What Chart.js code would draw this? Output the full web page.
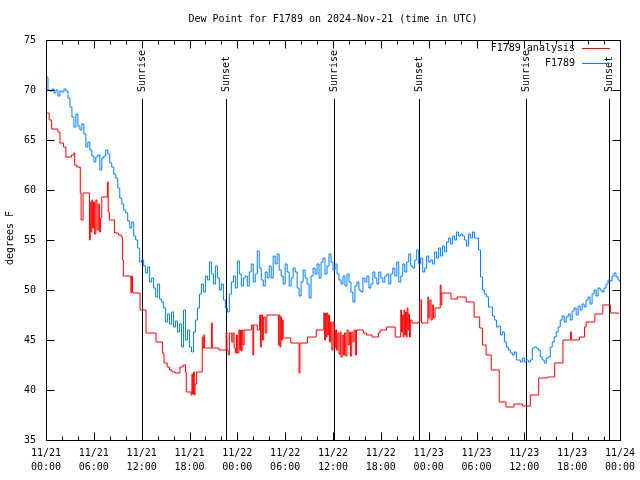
<!DOCTYPE html>
<html>
<head>
<meta charset="utf-8">
<title>Dew Point for F1789</title>
<script src="https://cdn.jsdelivr.net/npm/chart.js@4/dist/chart.umd.min.js"></script>
<style>
  html, body { margin: 0; padding: 0; background: #ffffff; }
  canvas { display: block; }
</style>
</head>
<body>
<canvas id="dewChart" width="640" height="480"></canvas>
<script>
// Hours since 11/21 00:00 UTC, x axis runs 0..72
const xTickLabels = [
    ['11/21', '00:00'], ['11/21', '06:00'], ['11/21', '12:00'], ['11/21', '18:00'],
    ['11/22', '00:00'], ['11/22', '06:00'], ['11/22', '12:00'], ['11/22', '18:00'],
    ['11/23', '00:00'], ['11/23', '06:00'], ['11/23', '12:00'], ['11/23', '18:00'],
    ['11/24', '00:00']
];
const yTickValues = [35, 40, 45, 50, 55, 60, 65, 70, 75];

const seriesNames = ['F1789 analysis', 'F1789'];

// sunrise / sunset markers (hours)
const sunEventHours = [12.06, 22.62, 36.16, 46.76, 60.25, 70.66];
const sunEventLabels = ['Sunrise', 'Sunset', 'Sunrise', 'Sunset', 'Sunrise', 'Sunset'];

// F1789 observed dew point, one reading every 15 minutes from 11/21 00:00
const obsStartHour = 0;
const obsStepHours = 0.25;
const obsDewPoint = [
    71.3, 70.0, 69.9, 70.1, 69.7, 70.0, 69.4, 69.9, 69.8, 70.1, 69.9, 69.2,
    68.3, 67.3, 66.3, 67.6, 66.4, 66.0, 66.6, 65.6, 64.3, 64.8, 64.0, 63.4,
    62.8, 63.3, 63.5, 62.0, 63.2, 63.4, 64.0, 63.6, 62.7, 62.3, 61.6, 61.2,
    60.2, 59.2, 58.6, 58.0, 57.7, 56.9, 56.2, 56.8, 55.4, 55.0, 54.2, 52.8,
    53.0, 52.4, 51.7, 52.3, 50.8, 51.2, 50.2, 49.3, 50.6, 49.1, 48.8, 48.2,
    46.8, 47.6, 46.6, 47.8, 46.3, 46.9, 45.8, 46.6, 44.3, 48.0, 45.0, 46.0,
    44.3, 43.8, 45.8, 47.0, 48.2, 49.6, 50.6, 49.8, 51.4, 51.0, 52.8, 51.6,
    50.6, 52.4, 51.2, 50.0, 50.6, 49.0, 48.2, 47.8, 49.6, 50.8, 51.4, 50.2,
    52.9, 51.6, 50.4, 51.2, 51.4, 50.4, 51.8, 52.6, 50.8, 51.6, 53.9, 52.2,
    51.0, 50.4, 51.8, 51.2, 52.4, 51.2, 53.4, 52.6, 53.6, 52.0, 51.4, 50.6,
    52.6, 51.8, 50.4, 51.2, 52.2, 51.8, 50.2, 49.4, 50.8, 52.0, 51.2, 50.6,
    49.2, 51.4, 52.2, 51.6, 52.6, 51.2, 52.8, 53.2, 51.6, 52.4, 53.6, 52.8,
    52.0, 52.6, 51.6, 51.0, 50.6, 51.4, 50.4, 51.6, 50.8, 49.8, 48.8, 50.4,
    50.8, 50.0, 49.8, 51.2, 50.8, 51.4, 50.2, 50.6, 51.8, 51.2, 50.6, 51.8,
    51.2, 50.8, 51.4, 51.6, 50.6, 51.6, 52.2, 51.4, 52.8, 50.8, 51.4, 52.6,
    51.8, 52.8, 53.6, 52.4, 52.2, 53.0, 54.0, 52.6, 53.2, 51.8, 52.2, 53.4,
    52.8, 53.0, 52.6, 53.8, 53.2, 54.2, 53.4, 54.4, 53.8, 54.8, 55.2, 54.6,
    55.4, 55.0, 55.8, 55.4, 55.6, 55.4, 55.0, 54.4, 55.6, 55.2, 55.8, 55.2,
    55.2, 54.0, 51.3, 50.0, 49.6, 49.3, 48.3, 48.3, 47.4, 47.0, 46.3, 46.4,
    45.5, 45.8, 44.8, 44.3, 44.0, 43.7, 43.5, 43.8, 43.0, 43.0, 42.8, 43.2,
    42.8, 43.0, 42.8, 43.0, 44.2, 44.3, 44.2, 44.0, 43.3, 43.0, 42.7, 43.2,
    43.3, 44.3, 44.8, 45.3, 45.8, 46.3, 47.0, 47.4, 46.8, 47.3, 47.6, 47.0,
    47.9, 48.2, 47.5, 48.4, 48.0, 48.6, 48.3, 49.0, 49.3, 48.6, 49.6, 50.0,
    49.4, 50.2, 50.0, 49.8, 50.2, 50.6, 51.0, 50.9, 51.4, 51.7, 51.3, 51.0,
    50.8, 51.3, 51.4, 51.6
];

// F1789 analysis: hour at which each new value starts
const anaHours = [
    0, 0.4, 0.7, 1.5, 1.75, 2.2, 2.5, 3.2, 3.5, 3.6, 3.85,
    4.3, 4.4, 4.65, 5.45, 5.55, 5.65, 5.75, 5.85, 5.95, 6.1, 6.25, 6.4, 6.55, 6.7, 6.85,
    7.0, 7.7, 7.8, 7.95, 8.6, 9.1, 9.45, 9.6, 9.7, 10.55, 10.65, 10.75, 10.85, 10.95,
    11.8, 12.55, 13.8, 14.6, 14.8, 15.2, 15.5, 15.8, 16.2, 16.8, 17.2, 17.5, 17.6,
    18.2, 18.3, 18.4, 18.5, 18.6, 18.7, 18.9, 19.6, 19.7, 19.8, 19.9, 20.75, 20.85, 21.7,
    22.6, 22.7, 22.85, 23.0, 23.15, 23.3, 23.45, 23.6, 23.75, 23.9,
    24.0, 24.2, 24.3, 24.4, 24.5, 24.6, 24.7, 24.85, 25.75, 25.95, 26.05, 26.5,
    26.8, 26.9, 27.0, 27.15, 27.3, 27.5, 27.7,
    29.15, 29.25, 29.35, 29.45, 29.55, 29.65, 29.75, 30.7, 31.75, 31.85, 32.8, 33.9,
    34.85, 34.95, 35.05, 35.15, 35.25, 35.35, 35.45, 35.55, 35.7, 35.85, 36.0, 36.15, 36.3, 36.45, 36.6,
    36.75, 36.9, 37.0, 37.15, 37.3, 37.45, 37.6, 37.75, 37.9, 38.05, 38.2, 38.35, 38.5, 38.65, 38.8, 38.95,
    39.8, 40.2, 40.9, 41.7, 41.9, 42.7, 43.8,
    44.5, 44.6, 44.7, 44.8, 44.9, 45.0, 45.1, 45.2, 45.3, 45.4, 45.5, 45.6, 45.7, 45.9,
    46.7, 46.9, 47.1, 47.9, 48.0, 48.15, 48.3, 48.45, 48.6, 48.8,
    49.45, 49.55, 49.65, 50.8, 51.6, 52.7, 53.7, 54.4, 54.75, 55.2, 55.85,
    56.85, 57.7, 58.7, 59.75, 60.75, 61.8, 62.85, 63.8, 64.85, 65.8, 65.9,
    66.9, 67.55, 67.75, 68.85, 69.85, 70.8, 71.8
];
const anaDewPoint = [
    67.7, 67.0, 66.1, 65.8, 64.7, 64.3, 63.3, 63.5, 63.7, 62.5, 62.3,
    59.7, 57.0, 59.7, 55.0, 58.8, 55.8, 59.0, 56.2, 58.8, 55.6, 59.0, 56.0, 58.6, 55.8, 57.2,
    59.3, 60.8, 57.8, 57.0, 55.7, 55.5, 55.3, 53.0, 51.4, 51.3, 49.7, 51.4, 49.8, 49.7,
    48.0, 45.7, 44.8, 43.7, 42.7, 42.3, 42.0, 41.8, 41.7, 42.3, 42.5, 41.8, 39.8,
    39.5, 41.6, 39.6, 41.8, 39.5, 40.6, 41.8, 45.3, 44.2, 45.5, 44.2, 46.7, 44.2, 44.0,
    45.8, 44.0, 43.5, 45.7, 45.7, 44.8, 45.7, 44.2, 43.7, 45.5,
    43.7, 46.0, 44.0, 46.0, 43.9, 46.0, 44.5, 46.0, 46.5, 43.5, 46.5, 46.0,
    47.5, 44.3, 47.5, 45.0, 47.3, 45.7, 47.5,
    44.5, 47.5, 44.3, 47.3, 45.0, 47.0, 45.2, 44.7, 41.7, 44.7, 45.3, 46.0,
    47.7, 45.0, 47.7, 45.3, 47.7, 45.5, 47.5, 44.8, 46.8, 44.0, 46.8, 44.2, 46.0, 44.0, 45.7,
    43.6, 45.8, 43.3, 45.5, 43.5, 45.7, 43.4, 46.0, 44.5, 45.8, 43.4, 45.8, 44.8, 46.0, 43.5, 46.0,
    45.7, 45.5, 45.3, 45.7, 46.0, 46.3, 45.3,
    48.0, 45.8, 47.5, 45.3, 48.0, 45.5, 47.8, 45.3, 48.2, 46.0, 47.6, 45.3, 47.0, 46.7,
    46.8, 49.0, 46.7, 49.3, 47.2, 49.0, 47.0, 48.5, 47.2, 48.2,
    50.5, 48.5, 49.7, 49.1, 49.3, 48.8, 47.3, 46.2, 44.5, 43.5, 42.0,
    38.8, 38.3, 38.6, 38.4, 39.5, 41.2, 41.3, 42.7, 45.0, 45.8, 45.0,
    45.3, 46.3, 46.8, 47.6, 48.5, 47.7, 47.6
];

const MONO = "'DejaVu Sans Mono', 'Liberation Mono', monospace";
const RED = '#ff0000';
const BLUE = '#0080ff';

const obsPoints = obsDewPoint.map((v, i) => ({ x: obsStartHour + i * obsStepHours, y: v }));
const anaPoints = anaHours.map((h, i) => ({ x: h, y: anaDewPoint[i] }));

// frame, ticks, sunrise/sunset markers, legend and titles in gnuplot style
const gnuplotDecor = {
    id: 'gnuplotDecor',
    beforeDatasetsDraw(chart) {
        const ctx = chart.ctx;
        const area = chart.chartArea;
        const xs = chart.scales.x;
        ctx.save();
        ctx.strokeStyle = '#000';
        ctx.lineWidth = 1;
        ctx.fillStyle = '#000';
        ctx.font = '10px ' + MONO;
        sunEventHours.forEach((h, i) => {
            const px = Math.round(xs.getPixelForValue(h)) + 0.5;
            ctx.beginPath();
            ctx.moveTo(px, 99);
            ctx.lineTo(px, area.bottom);
            ctx.stroke();
            ctx.save();
            ctx.translate(px, 92);
            ctx.rotate(-Math.PI / 2);
            ctx.textAlign = 'left';
            ctx.textBaseline = 'middle';
            ctx.fillText(sunEventLabels[i], 0, 0);
            ctx.restore();
        });
        ctx.restore();
    },
    afterDatasetsDraw(chart) {
        const ctx = chart.ctx;
        const area = chart.chartArea;
        const xs = chart.scales.x;
        const ys = chart.scales.y;
        ctx.save();
        ctx.strokeStyle = '#000';
        ctx.lineWidth = 1;
        const L = area.left + 0.5, R = area.right + 0.5;
        const T = area.top + 0.5, B = area.bottom + 0.5;
        ctx.strokeRect(L, T, R - L, B - T);

        ctx.beginPath();
        for (let h = 0; h <= 72; h += 2) {
            const px = Math.round(xs.getPixelForValue(h)) + 0.5;
            const len = h % 6 === 0 ? 8 : 4;
            ctx.moveTo(px, B); ctx.lineTo(px, B - len);
            ctx.moveTo(px, T); ctx.lineTo(px, T + len);
        }
        yTickValues.forEach(v => {
            const py = Math.round(ys.getPixelForValue(v)) + 0.5;
            ctx.moveTo(L, py); ctx.lineTo(L + 8, py);
            ctx.moveTo(R, py); ctx.lineTo(R - 8, py);
        });
        ctx.stroke();

        // legend
        ctx.fillStyle = '#000';
        ctx.font = '10px ' + MONO;
        ctx.textAlign = 'right';
        ctx.textBaseline = 'middle';
        [RED, BLUE].forEach((c, i) => {
            const y = 48 + i * 15;
            ctx.fillText(seriesNames[i], 575, y);
            ctx.strokeStyle = c;
            ctx.beginPath();
            ctx.moveTo(582, y + 0.5);
            ctx.lineTo(610, y + 0.5);
            ctx.stroke();
        });

        // title
        ctx.textAlign = 'center';
        ctx.fillText('Dew Point for F1789 on 2024-Nov-21 (time in UTC)', (area.left + area.right) / 2, 19);

        // y axis title
        ctx.save();
        ctx.translate(10, 238);
        ctx.rotate(-Math.PI / 2);
        ctx.textAlign = 'center';
        ctx.fillText('degrees F', 0, 0);
        ctx.restore();
        ctx.restore();
    }
};

const chart = new Chart(document.getElementById('dewChart'), {
    type: 'line',
    data: {
        datasets: [
            {
                label: seriesNames[1],
                data: obsPoints,
                borderColor: BLUE,
                borderWidth: 1,
                pointRadius: 0,
                stepped: true,
                fill: false
            },
            {
                label: seriesNames[0],
                data: anaPoints,
                borderColor: RED,
                borderWidth: 1,
                pointRadius: 0,
                stepped: true,
                fill: false
            }
        ]
    },
    options: {
        responsive: false,
        animation: false,
        layout: { padding: { top: 40, right: 20, left: 0, bottom: 0 } },
        plugins: {
            legend: { display: false },
            title: { display: false },
            tooltip: { enabled: false }
        },
        scales: {
            x: {
                type: 'linear',
                min: 0,
                max: 72,
                grid: { display: false },
                border: { display: false },
                afterBuildTicks: scale => {
                    scale.ticks = xTickLabels.map((_, i) => ({ value: i * 6 }));
                },
                afterFit: scale => { scale.height = 40; },
                ticks: {
                    autoSkip: false,
                    maxRotation: 0,
                    padding: -2,
                    color: '#000',
                    font: { family: MONO, size: 10, lineHeight: 1.4 },
                    callback: value => xTickLabels[Math.round(value / 6)]
                }
            },
            y: {
                min: 35,
                max: 75,
                grid: { display: false },
                border: { display: false },
                afterBuildTicks: scale => {
                    scale.ticks = yTickValues.map(v => ({ value: v }));
                },
                afterFit: scale => { scale.width = 46; },
                ticks: {
                    padding: 2,
                    color: '#000',
                    font: { family: MONO, size: 10 },
                    callback: value => String(value)
                }
            }
        }
    },
    plugins: [gnuplotDecor]
});
</script>
</body>
</html>
